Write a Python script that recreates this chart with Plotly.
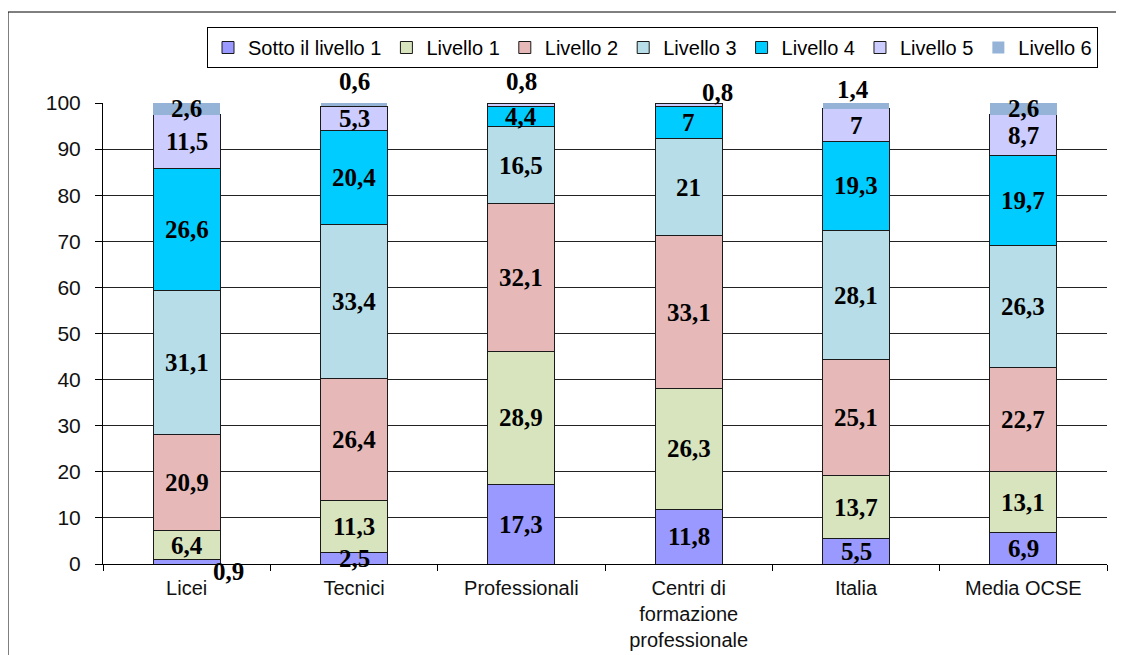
import plotly.graph_objects as go

categories = ["Licei", "Tecnici", "Professionali",
              "Centri di<br>formazione<br>professionale", "Italia", "Media OCSE"]

level_names = ["Sotto il livello 1", "Livello 1", "Livello 2", "Livello 3",
               "Livello 4", "Livello 5", "Livello 6"]

sotto_livello_1 = [0.9, 2.5, 17.3, 11.8, 5.5, 6.9]
livello_1 = [6.4, 11.3, 28.9, 26.3, 13.7, 13.1]
livello_2 = [20.9, 26.4, 32.1, 33.1, 25.1, 22.7]
livello_3 = [31.1, 33.4, 16.5, 21.0, 28.1, 26.3]
livello_4 = [26.6, 20.4, 4.4, 7.0, 19.3, 19.7]
livello_5 = [11.5, 5.3, 0.8, 0.8, 7.0, 8.7]
livello_6 = [2.6, 0.6, 0.0, 0.0, 1.4, 2.6]

y_ticks = [0, 10, 20, 30, 40, 50, 60, 70, 80, 90, 100]

series = [sotto_livello_1, livello_1, livello_2, livello_3,
          livello_4, livello_5, livello_6]
colors = ["#9999FF", "#D7E4BD", "#E6B9B8", "#B7DEE8",
          "#00CCFF", "#CCCCFF", "#95B3D7"]
line_widths = [1, 1, 1, 1, 1, 1, 0]

# label offsets (pixels) for small segments: (series index, category index)
label_shift = {
    (0, 0): (42, -10),
    (6, 1): (0, 23),
    (5, 2): (0, 23),
    (5, 3): (29, 12),
    (6, 4): (-3, 16),
}

fig = go.Figure()
for name, vals, col, lw in zip(level_names, series, colors, line_widths):
    fig.add_trace(go.Bar(
        x=categories, y=vals, name=name,
        marker=dict(color=col, line=dict(color="#1a1a1a", width=lw)),
        hoverinfo="x+y+name",
    ))

annotations = []
base = [0.0] * len(categories)
for si, vals in enumerate(series):
    for ci, v in enumerate(vals):
        if v > 0:
            xs, ys = label_shift.get((si, ci), (0, 0))
            annotations.append(dict(
                x=categories[ci], y=base[ci] + v / 2,
                xref="x", yref="y", showarrow=False,
                text=f"{v:g}".replace(".", ","),
                font=dict(family="Liberation Serif", size=25, color="black",
                          weight="bold"),
                xshift=xs, yshift=ys,
            ))
        base[ci] += v

OFF = 8  # page body margin
W, H = 1124, 655
pw, ph = 1004, 461
L, T = 103 - OFF, 103 - OFF
R, B = W - L - pw, H - T - ph

def px(xp):
    return (xp - OFF - L) / pw

def py(yp):
    return (OFF + T + ph - yp) / ph

fig.update_layout(
    width=W, height=H,
    margin=dict(l=L, r=R, t=T, b=B),
    barmode="stack", bargap=0.6,
    plot_bgcolor="white", paper_bgcolor="white",
    font=dict(family="Liberation Sans", size=21, color="black"),
    annotations=annotations,
    showlegend=True,
    legend=dict(
        orientation="h", x=px(207), y=py(27), xanchor="left", yanchor="top",
        bordercolor="black", borderwidth=1, bgcolor="white",
        font=dict(family="Liberation Sans", size=20, color="black"),
        itemwidth=30, traceorder="normal",
    ),
    shapes=[dict(type="rect", xref="paper", yref="paper",
                 x0=px(8), x1=px(1300), y0=py(700), y1=py(12),
                 line=dict(color="black", width=1), fillcolor="rgba(0,0,0,0)",
                 layer="below")],
)

fig.update_yaxes(
    range=[0, 100], tickvals=y_ticks, showgrid=True, gridcolor="#222222",
    gridwidth=1, showline=True, linecolor="black", linewidth=1,
    ticks="outside", ticklen=7, tickcolor="black", zeroline=False,
    ticklabelstandoff=10,
    tickfont=dict(family="Liberation Sans", size=21, color="#111111"),
)
fig.update_xaxes(
    showline=True, linecolor="black", linewidth=1, ticks="outside",
    tickson="boundaries", ticklen=6, tickcolor="black", showgrid=False,
    ticklabelstandoff=6,
    tickfont=dict(family="Liberation Sans", size=20, color="#111111"),
)

fig.write_html("out.html")
